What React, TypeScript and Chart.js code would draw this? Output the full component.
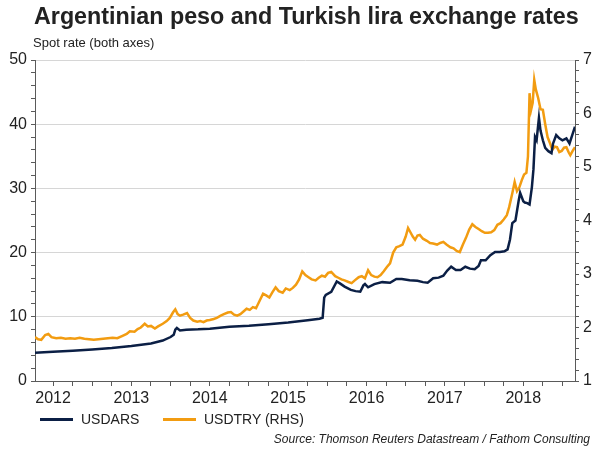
import React, { useEffect, useRef } from "react";
import { Chart, registerables } from "chart.js";

Chart.register(...registerables);

const yearLabels = [2012, 2013, 2014, 2015, 2016, 2017, 2018];
const leftTicks = [0, 10, 20, 30, 40, 50];
const rightTicks = [1, 2, 3, 4, 5, 6, 7];

const arsTimes = [
  2012.27, 2012.5, 2012.75, 2013.0, 2013.25, 2013.5, 2013.75, 2013.9, 2014.0, 2014.04,
  2014.06, 2014.08, 2014.12, 2014.2, 2014.35, 2014.5, 2014.75, 2015.0, 2015.25, 2015.5,
  2015.75, 2015.9, 2015.94, 2015.96, 2015.98, 2016.05, 2016.12, 2016.16, 2016.22, 2016.3,
  2016.36, 2016.42, 2016.46, 2016.48, 2016.52, 2016.6, 2016.7, 2016.8, 2016.88, 2016.95,
  2017.05, 2017.15, 2017.22, 2017.28, 2017.35, 2017.42, 2017.48, 2017.53, 2017.58, 2017.64,
  2017.7, 2017.76, 2017.82, 2017.88, 2017.93, 2017.96, 2018.02, 2018.08, 2018.14, 2018.2,
  2018.26, 2018.3, 2018.33, 2018.36, 2018.4, 2018.44, 2018.46, 2018.5, 2018.52, 2018.55,
  2018.58, 2018.61, 2018.63, 2018.65, 2018.67, 2018.7, 2018.72, 2018.75, 2018.78, 2018.82,
  2018.86, 2018.88, 2018.92, 2018.96, 2019.0, 2019.05, 2019.09, 2019.13, 2019.16,
];
const arsValues = [
  4.4, 4.55, 4.72, 4.92, 5.15, 5.45, 5.85, 6.3, 6.85, 7.2,
  8.0, 8.25, 7.88, 8.0, 8.05, 8.15, 8.45, 8.6, 8.85, 9.1,
  9.45, 9.7, 9.85, 13.0, 13.4, 13.9, 15.5, 15.2, 14.7, 14.2,
  14.0, 13.9, 14.9, 15.1, 14.6, 15.1, 15.4, 15.3, 15.9, 15.9,
  15.7, 15.6, 15.4, 15.3, 16.0, 16.1, 16.4, 17.2, 17.8, 17.3,
  17.3, 17.8, 17.5, 17.4, 17.9, 18.8, 18.8, 19.6, 20.1, 20.1,
  20.2, 20.5, 22.0, 24.6, 25.0, 28.0, 29.3, 28.0, 27.8, 27.7,
  27.5, 30.2, 33.0, 38.0, 37.5, 41.0, 39.0, 37.5, 36.3, 35.8,
  35.5, 37.0, 38.3, 37.8, 37.5, 37.8, 37.0, 38.5, 39.6,
];

const tryTimes = [
  2012.27, 2012.31, 2012.35, 2012.4, 2012.44, 2012.48, 2012.54, 2012.6, 2012.66, 2012.72,
  2012.78, 2012.84, 2012.9, 2012.96, 2013.02, 2013.08, 2013.14, 2013.2, 2013.26, 2013.32,
  2013.38, 2013.44, 2013.48, 2013.54, 2013.58, 2013.62, 2013.67, 2013.71, 2013.75, 2013.8,
  2013.84, 2013.9, 2013.95, 2013.99, 2014.03, 2014.06, 2014.09, 2014.12, 2014.16, 2014.21,
  2014.25, 2014.29, 2014.34, 2014.38, 2014.42, 2014.46, 2014.5, 2014.55, 2014.59, 2014.64,
  2014.68, 2014.73, 2014.77, 2014.81, 2014.85, 2014.89, 2014.93, 2014.97, 2015.01, 2015.05,
  2015.09, 2015.13, 2015.18, 2015.22, 2015.26, 2015.3, 2015.34, 2015.38, 2015.43, 2015.47,
  2015.52, 2015.56, 2015.6, 2015.64, 2015.68, 2015.72, 2015.76, 2015.8, 2015.85, 2015.89,
  2015.93, 2015.97, 2016.01, 2016.05, 2016.1, 2016.14, 2016.18, 2016.22, 2016.27, 2016.31,
  2016.35, 2016.4, 2016.44, 2016.48, 2016.52, 2016.56, 2016.6, 2016.64, 2016.68, 2016.72,
  2016.76, 2016.8, 2016.84, 2016.88, 2016.92, 2016.96, 2017.0, 2017.03, 2017.06, 2017.09,
  2017.12, 2017.15, 2017.18, 2017.22, 2017.27, 2017.31, 2017.35, 2017.4, 2017.44, 2017.48,
  2017.52, 2017.57, 2017.61, 2017.65, 2017.69, 2017.73, 2017.77, 2017.81, 2017.85, 2017.89,
  2017.93, 2017.97, 2018.01, 2018.05, 2018.09, 2018.13, 2018.17, 2018.21, 2018.25, 2018.29,
  2018.32, 2018.36, 2018.39, 2018.42, 2018.45, 2018.48, 2018.51, 2018.54, 2018.56, 2018.58,
  2018.6, 2018.62, 2018.64, 2018.66, 2018.69, 2018.72, 2018.75, 2018.78, 2018.81, 2018.84,
  2018.87, 2018.9, 2018.93, 2018.96, 2018.99, 2019.02, 2019.05, 2019.08, 2019.1, 2019.13,
  2019.16,
];
const tryValues = [
  1.82, 1.78, 1.77, 1.86, 1.88, 1.82, 1.8, 1.81, 1.79, 1.8,
  1.79, 1.81, 1.79, 1.78, 1.77, 1.78, 1.79, 1.8, 1.81, 1.8,
  1.84, 1.88, 1.93, 1.92, 1.97, 2.0, 2.07, 2.02, 2.03, 1.98,
  2.02, 2.07, 2.12, 2.18, 2.28, 2.34, 2.25, 2.22, 2.24, 2.27,
  2.18, 2.13, 2.11, 2.12, 2.1, 2.13, 2.14, 2.16, 2.18, 2.22,
  2.25, 2.28, 2.29, 2.24, 2.22, 2.25, 2.3, 2.35, 2.33, 2.38,
  2.36, 2.48, 2.63, 2.6, 2.56, 2.66, 2.75, 2.68, 2.65, 2.73,
  2.7, 2.74, 2.8, 2.9, 3.05, 2.98, 2.94, 2.9, 2.88, 2.93,
  2.97, 2.95, 3.02, 3.04, 2.96, 2.93, 2.9, 2.88, 2.85, 2.83,
  2.88, 2.94, 2.96, 2.92, 3.07, 2.98, 2.95, 2.94, 2.98, 3.05,
  3.13, 3.2, 3.4, 3.5, 3.52, 3.55, 3.7, 3.86, 3.78, 3.7,
  3.64, 3.72, 3.73, 3.66, 3.62, 3.58, 3.57, 3.55, 3.58, 3.6,
  3.55, 3.5, 3.48, 3.43, 3.41, 3.55, 3.68, 3.83, 3.93, 3.88,
  3.84, 3.8, 3.77, 3.77, 3.78, 3.82, 3.92, 3.95, 4.02, 4.1,
  4.25, 4.51, 4.72, 4.55, 4.62, 4.75, 4.86, 4.89, 5.2, 6.38,
  6.07, 6.2, 6.63, 6.45, 6.29, 6.08, 6.07, 5.8, 5.56, 5.45,
  5.32, 5.38, 5.37, 5.28, 5.3, 5.36, 5.37, 5.27, 5.22, 5.3,
  5.37,
];

const NAVY = "#0b1f45";
const ORANGE = "#f29c11";
const AXIS = "#5a5a5a";
const GRID = "#d6d6d6";
const FONT = "Arial, 'Liberation Sans', sans-serif";

const quarterTicks: number[] = [];
yearLabels.forEach((y) => {
  [0.5, 0.75, 1.0, 1.25].forEach((q) => quarterTicks.push(y + q));
});

const leftMinor: number[] = [];
for (let v = leftTicks[0]; v <= leftTicks[leftTicks.length - 1] + 1e-9; v += 2) leftMinor.push(v);
const rightMinor: number[] = [];
for (let i = 0; i <= (rightTicks[rightTicks.length - 1] - rightTicks[0]) * 5; i++)
  rightMinor.push(Math.round((rightTicks[0] + i * 0.2) * 10) / 10);

export default function App() {
  const ref = useRef<HTMLCanvasElement>(null);

  useEffect(() => {
    document.body.style.margin = "0";
    const canvas = ref.current;
    if (!canvas) return;
    const xMin = tryTimes[0];
    const xMax = tryTimes[tryTimes.length - 1];
    const chart = new Chart(canvas, {
      type: "line",
      data: {
        datasets: [
          {
            label: "USDARS",
            data: arsTimes.map((t, i) => ({ x: t, y: arsValues[i] })),
            borderColor: NAVY,
            backgroundColor: NAVY,
            borderWidth: 2.5,
            pointRadius: 0,
            tension: 0,
            yAxisID: "y",
          },
          {
            label: "USDTRY (RHS)",
            data: tryTimes.map((t, i) => ({ x: t, y: tryValues[i] })),
            borderColor: ORANGE,
            backgroundColor: ORANGE,
            borderWidth: 2.5,
            pointRadius: 0,
            tension: 0,
            yAxisID: "y1",
          },
        ],
      },
      options: {
        responsive: false,
        animation: false,
        layout: { padding: { top: 60, left: 0, right: 0, bottom: 0 } },
        plugins: {
          legend: { display: false },
          title: { display: false },
          tooltip: { enabled: false },
        },
        scales: {
          x: {
            type: "linear",
            min: xMin,
            max: xMax,
            afterBuildTicks: (scale: any) => {
              scale.ticks = quarterTicks.filter((v) => v <= xMax && v >= xMin).map((v) => ({ value: v }));
            },
            afterFit: (scale: any) => {
              scale.height = 69;
            },
            ticks: {
              autoSkip: false,
              maxRotation: 0,
              padding: 3,
              color: "#222",
              font: { family: FONT, size: 16 },
              callback: (v: any) => {
                const n = Number(v);
                const frac = n - Math.floor(n);
                return Math.abs(frac - 0.5) < 1e-6 ? String(Math.floor(n)) : "";
              },
            },
            grid: {
              drawOnChartArea: false,
              drawTicks: true,
              tickLength: 5,
              color: AXIS,
              tickColor: AXIS,
            },
            border: { display: true, color: AXIS, width: 1 },
          },
          y: {
            type: "linear",
            position: "left",
            min: leftTicks[0],
            max: leftTicks[leftTicks.length - 1],
            afterBuildTicks: (scale: any) => {
              scale.ticks = leftMinor.map((v) => ({ value: v }));
            },
            afterFit: (scale: any) => {
              scale.width = 35;
            },
            ticks: {
              autoSkip: false,
              padding: 4,
              color: "#222",
              font: { family: FONT, size: 16 },
              callback: (v: any) => (leftTicks.includes(Number(v)) ? String(v) : ""),
            },
            grid: {
              drawOnChartArea: true,
              drawTicks: true,
              tickLength: 4,
              color: (ctx: any) => {
                const v = ctx.tick ? ctx.tick.value : null;
                return v !== null && v !== leftTicks[0] && leftTicks.includes(v) ? GRID : "rgba(0,0,0,0)";
              },
              tickColor: AXIS,
            },
            border: { display: true, color: AXIS, width: 1 },
          },
          y1: {
            type: "linear",
            position: "right",
            min: rightTicks[0],
            max: rightTicks[rightTicks.length - 1],
            afterBuildTicks: (scale: any) => {
              scale.ticks = rightMinor.map((v) => ({ value: v }));
            },
            afterFit: (scale: any) => {
              scale.width = 25;
            },
            ticks: {
              autoSkip: false,
              padding: 4,
              color: "#222",
              font: { family: FONT, size: 16 },
              callback: (v: any) => (rightTicks.includes(Number(v)) ? String(v) : ""),
            },
            grid: {
              drawOnChartArea: false,
              drawTicks: true,
              tickLength: 4,
              color: AXIS,
              tickColor: AXIS,
            },
            border: { display: true, color: AXIS, width: 1 },
          },
        },
      },
    });
    return () => chart.destroy();
  }, []);

  const legendItem = (color: string, text: string, left: number) => (
    <div style={{ position: "absolute", left, top: 411, display: "flex", alignItems: "center" }}>
      <div style={{ width: 33, height: 3, background: color, marginRight: 8 }} />
      <span style={{ fontFamily: FONT, fontSize: 14, color: "#222" }}>{text}</span>
    </div>
  );

  return (
    <div style={{ position: "relative", width: 600, height: 450, background: "#fff", overflow: "hidden" }}>
      <canvas ref={ref} width={600} height={450} style={{ position: "absolute", left: 0, top: 0 }} />
      <div
        style={{
          position: "absolute",
          left: 34,
          top: 3,
          fontFamily: FONT,
          fontWeight: "bold",
          fontSize: 23.3,
          color: "#222",
          whiteSpace: "nowrap",
        }}
      >
        Argentinian peso and Turkish lira exchange rates
      </div>
      <div
        style={{
          position: "absolute",
          left: 33,
          top: 35,
          fontFamily: FONT,
          fontSize: 13,
          color: "#222",
          whiteSpace: "nowrap",
        }}
      >
        Spot rate (both axes)
      </div>
      {legendItem(NAVY, "USDARS", 40)}
      {legendItem(ORANGE, "USDTRY (RHS)", 163)}
      <div
        style={{
          position: "absolute",
          right: 10,
          top: 432,
          fontFamily: FONT,
          fontStyle: "italic",
          fontSize: 12,
          color: "#222",
          whiteSpace: "nowrap",
        }}
      >
        Source: Thomson Reuters Datastream / Fathom Consulting
      </div>
    </div>
  );
}
